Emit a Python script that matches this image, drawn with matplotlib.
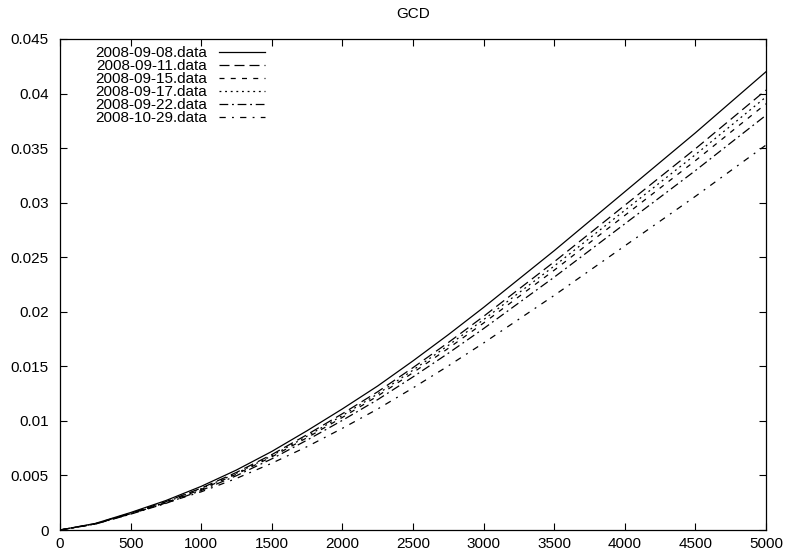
import numpy as np
import matplotlib
matplotlib.use("Agg")
import matplotlib.pyplot as plt
from matplotlib.ticker import FuncFormatter

plt.rcParams['font.family'] = ['Liberation Sans', 'DejaVu Sans']

# sample positions and values
x = [0, 250, 500, 750, 1000, 1250, 1500, 1750, 2000, 2250, 2500,
     2750, 3000, 3250, 3500, 3750, 4000, 4250, 4500, 4750, 5000]

d0908 = [0, .0006, .0016, .0027, .0040, .0055, .0072, .0091, .0111, .0132, .0155,
         .0179, .0204, .0230, .0256, .0283, .0310, .0337, .0364, .0392, .0420]
d0911 = [0, .00058, .00154, .0026, .00384, .00528, .00691, .00874, .01066, .01267, .01488,
         .01718, .01958, .02208, .02458, .02717, .02976, .03235, .03494, .03763, .04032]
d0915 = [0, .00056, .00149, .00251, .00372, .00512, .0067, .00846, .01032, .01228, .01442,
         .01665, .01897, .02139, .02381, .02632, .02883, .03134, .03385, .03646, .03906]
d0917 = [0, .00057, .00151, .00255, .00378, .0052, .0068, .0086, .01049, .01247, .01465,
         .01692, .01928, .02174, .02419, .02674, .0293, .03185, .0344, .03704, .03969]
d0922 = [0, .00054, .00145, .00244, .00362, .00498, .00652, .00824, .01005, .01195, .01403,
         .0162, .01846, .02082, .02317, .02561, .02806, .0305, .03294, .03548, .03801]
d1029 = [0, .00055, .00147, .00248, .0035, .00473, .00612, .00764, .00932, .01109, .01302,
         .01504, .01714, .01932, .0215, .02377, .02604, .02831, .03058, .03293, .03528]

labels = ['2008-09-08.data', '2008-09-11.data', '2008-09-15.data',
          '2008-09-17.data', '2008-09-22.data', '2008-10-29.data']
series = [d0908, d0911, d0915, d0917, d0922, d1029]
dashes = ['-', (0, (8, 4)), (0, (4, 5)), (0, (1.5, 3)),
          (0, (7, 3, 1.5, 3)), (0, (5, 5, 1.5, 5))]

fig = plt.figure(figsize=(7.88, 5.54), dpi=100)
ax = fig.add_axes([60/788, 24/554, 706/788, 491/554])

for y, lab, ls in zip(series, labels, dashes):
    ax.plot(x, y, color='black', lw=0.9, linestyle=ls, label=lab)

ax.set_xlim(0, 5000)
ax.set_ylim(0, 0.045)
ax.set_xticks(np.arange(0, 5001, 500))
ax.set_yticks(np.arange(0, 0.0451, 0.005))
ax.yaxis.set_major_formatter(FuncFormatter(lambda v, p: '%g' % round(v, 4)))
ax.tick_params(direction='in', top=True, right=True, length=5, width=0.8,
               labelsize=11)
ax.tick_params(axis='y', pad=8)
ax.tick_params(axis='x', pad=5)
for s in ax.spines.values():
    s.set_linewidth(0.9)

ax.set_title('GCD', fontsize=11, pad=15)

ax.legend(loc='upper left', bbox_to_anchor=(0.04, 1.0), frameon=False,
          markerfirst=False, fontsize=11, handlelength=3.0, labelspacing=-0.06,
          handletextpad=0.8, borderaxespad=0.05)

fig.savefig('out.png', dpi=100)
